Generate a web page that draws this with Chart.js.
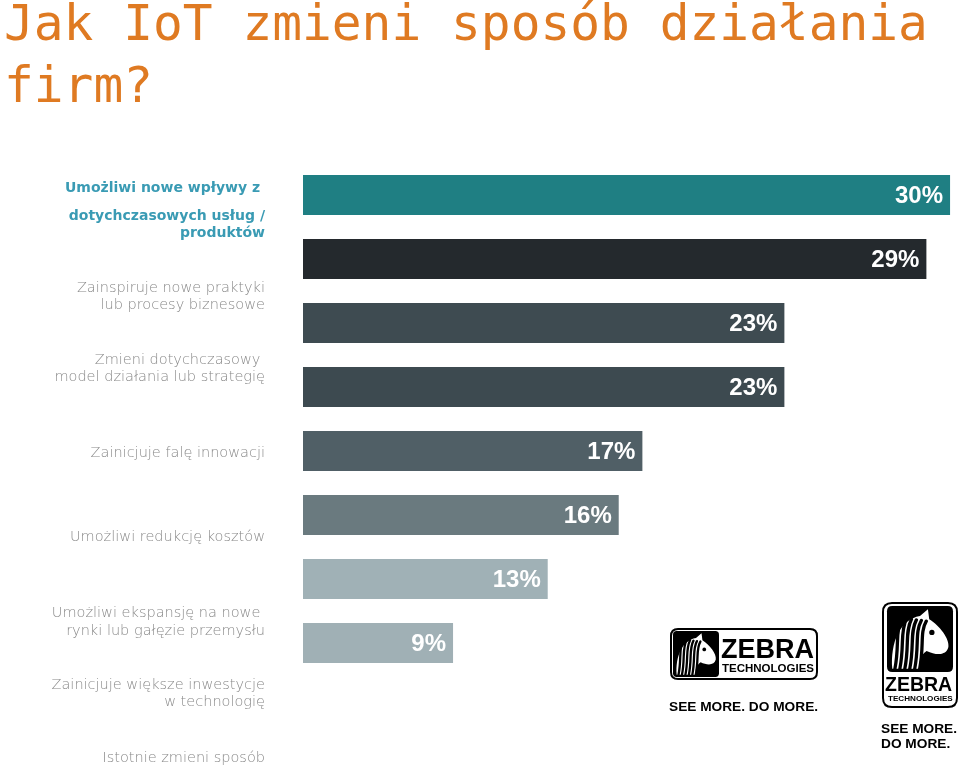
<!DOCTYPE html>
<html><head><meta charset="utf-8">
<script src="https://cdn.jsdelivr.net/npm/chart.js@4.4.0/dist/chart.umd.min.js"></script>
<style>html,body{margin:0;padding:0;background:#fff;}#wrap{width:960px;height:768px;position:relative;overflow:hidden}</style>
</head><body><div id="wrap"><canvas id="c" width="960" height="768"></canvas></div>
<script>
// ---- data ----
const titleLines = ['Jak IoT zmieni sposób działania', 'firm?'];
const categories = [
  ['Umożliwi nowe wpływy z ', 'dotychczasowych usług /', 'produktów'],
  ['Zainspiruje nowe praktyki', 'lub procesy biznesowe'],
  ['Zmieni dotychczasowy ', 'model działania lub strategię'],
  ['Zainicjuje falę innowacji'],
  ['Umożliwi redukcję kosztów'],
  ['Umożliwi ekspansję na nowe ', 'rynki lub gałęzie przemysłu'],
  ['Zainicjuje większe inwestycje', 'w technologię'],
  ['Istotnie zmieni sposób']
];
const values = [30, 29, 23, 23, 17, 16, 13, 9];
const valueLabels = ['30%', '29%', '23%', '23%', '17%', '16%', '13%', '9%'];
const barColors = ['#1f7f83', '#24292d', '#3e4b51', '#3d4a50', '#505f66', '#6a7a7f', '#a0b1b6', '#a0b0b5'];

// ---- layout (text placement only) ----
const labelLineY = [[188, 216, 233], [288, 305], [360, 377], [453], [537], [613, 631], [685, 702], [758]];
const labelRightX = 265;

function rr(ctx, x, y, w, h, r) {
  ctx.beginPath();
  ctx.moveTo(x + r, y);
  ctx.lineTo(x + w - r, y);
  ctx.quadraticCurveTo(x + w, y, x + w, y + r);
  ctx.lineTo(x + w, y + h - r);
  ctx.quadraticCurveTo(x + w, y + h, x + w - r, y + h);
  ctx.lineTo(x + r, y + h);
  ctx.quadraticCurveTo(x, y + h, x, y + h - r);
  ctx.lineTo(x, y + r);
  ctx.quadraticCurveTo(x, y, x + r, y);
  ctx.closePath();
}

function zebraHead(ctx, x, y, w, h) {
  ctx.save();
  ctx.fillStyle = '#000';
  rr(ctx, x, y, w, h, Math.min(w, h) * 0.08);
  ctx.fill();
  ctx.beginPath();
  ctx.rect(x + 2, y + 2, w - 4, h - 4);
  ctx.clip();
  // white head silhouette (neck from lower left, muzzle to the right)
  ctx.fillStyle = '#fff';
  ctx.beginPath();
  ctx.moveTo(x + w * 0.08, y + h * 0.95);
  ctx.bezierCurveTo(x + w * 0.05, y + h * 0.55, x + w * 0.2, y + h * 0.2, x + w * 0.5, y + h * 0.15);
  ctx.lineTo(x + w * 0.62, y + h * 0.05);
  ctx.lineTo(x + w * 0.64, y + h * 0.2);
  ctx.bezierCurveTo(x + w * 0.8, y + h * 0.3, x + w * 0.95, y + h * 0.5, x + w * 0.93, y + h * 0.62);
  ctx.bezierCurveTo(x + w * 0.9, y + h * 0.75, x + w * 0.75, y + h * 0.75, x + w * 0.6, y + h * 0.68);
  ctx.bezierCurveTo(x + w * 0.5, y + h * 0.75, x + w * 0.48, y + h * 0.85, x + w * 0.5, y + h * 0.95);
  ctx.closePath();
  ctx.fill();
  // black stripes over it
  ctx.strokeStyle = '#000';
  ctx.lineCap = 'round';
  ctx.lineWidth = Math.max(1.5, w * 0.05);
  for (let i = 0; i < 6; i++) {
    const sx = x + w * (0.14 + i * 0.075);
    ctx.beginPath();
    ctx.moveTo(sx + w * 0.08, y + h * (0.18 + i * 0.01));
    ctx.bezierCurveTo(sx - w * 0.02, y + h * 0.4, sx + w * 0.05, y + h * 0.6, sx - w * 0.02, y + h * 0.95);
    ctx.stroke();
  }
  ctx.fillStyle = '#000';
  ctx.beginPath();
  ctx.arc(x + w * 0.68, y + h * 0.4, w * 0.04, 0, Math.PI * 2);
  ctx.fill();
  ctx.restore();
}

const drawPlugin = {
  id: 'drawPlugin',
  afterDatasetsDraw(chart) {
    const ctx = chart.ctx;
    const meta = chart.getDatasetMeta(0);
    ctx.save();
    ctx.fillStyle = '#ffffff';
    ctx.font = 'bold 24px "Liberation Sans", Arial, sans-serif';
    ctx.textAlign = 'right';
    ctx.textBaseline = 'middle';
    meta.data.forEach((bar, i) => {
      ctx.fillText(valueLabels[i], bar.x - 7, bar.y + 1);
    });
    ctx.restore();
  },
  afterDraw(chart) {
    const ctx = chart.ctx;
    ctx.save();
    // title
    ctx.fillStyle = '#df7a22';
    ctx.font = '49.5px "DejaVu Sans Mono", "Liberation Mono", monospace';
    ctx.textAlign = 'left';
    ctx.textBaseline = 'alphabetic';
    ctx.fillText(titleLines[0], 4, 40);
    ctx.fillText(titleLines[1], 4, 102);

    // category labels
    ctx.textAlign = 'right';
    ctx.textBaseline = 'middle';
    categories.forEach((lines, i) => {
      if (i === 0) {
        ctx.font = 'bold 14px "DejaVu Sans", sans-serif';
        ctx.fillStyle = '#3a9bb4';
      } else {
        ctx.font = '200 14.5px "DejaVu Sans", sans-serif';
        ctx.fillStyle = '#8a8a8a';
      }
      lines.forEach((t, j) => ctx.fillText(t, labelRightX, labelLineY[i][j]));
    });

    // logo 1 (horizontal)
    ctx.strokeStyle = '#000';
    ctx.lineWidth = 2;
    rr(ctx, 671, 629, 146, 50, 7);
    ctx.stroke();
    zebraHead(ctx, 673, 631, 46, 46);
    ctx.fillStyle = '#000';
    ctx.textAlign = 'left';
    ctx.textBaseline = 'alphabetic';
    ctx.font = 'bold 27px "Liberation Sans", Arial, sans-serif';
    ctx.fillText('ZEBRA', 721, 658);
    ctx.font = 'bold 11.5px "Liberation Sans", Arial, sans-serif';
    ctx.fillText('TECHNOLOGIES', 722, 672);
    ctx.font = 'bold 13.7px "Liberation Sans", Arial, sans-serif';
    ctx.fillText('SEE MORE. DO MORE.', 669, 711);

    // logo 2 (vertical)
    ctx.lineWidth = 2;
    rr(ctx, 883, 603, 74, 104, 9);
    ctx.stroke();
    zebraHead(ctx, 887, 606, 66, 66);
    ctx.fillStyle = '#000';
    ctx.font = 'bold 19.5px "Liberation Sans", Arial, sans-serif';
    ctx.fillText('ZEBRA', 885, 691);
    ctx.font = 'bold 8.1px "Liberation Sans", Arial, sans-serif';
    ctx.fillText('TECHNOLOGIES', 888, 701);
    ctx.font = 'bold 13.7px "Liberation Sans", Arial, sans-serif';
    ctx.fillText('SEE MORE.', 881, 733);
    ctx.fillText('DO MORE.', 881, 748);
    ctx.restore();
  }
};

new Chart(document.getElementById('c'), {
  type: 'bar',
  data: {
    labels: categories,
    datasets: [{
      data: values,
      backgroundColor: barColors,
      borderWidth: 0,
      barPercentage: 0.625,
      categoryPercentage: 1.0
    }]
  },
  options: {
    indexAxis: 'y',
    responsive: false,
    animation: false,
    layout: { padding: { left: 303, right: 0, top: 163, bottom: 93 } },
    scales: {
      x: { type: 'linear', min: 2.66, max: 30.42, display: false },
      y: { type: 'category', display: false, offset: true }
    },
    plugins: {
      legend: { display: false },
      tooltip: { enabled: false },
      title: { display: false }
    }
  },
  plugins: [drawPlugin]
});
</script>
</body></html>
